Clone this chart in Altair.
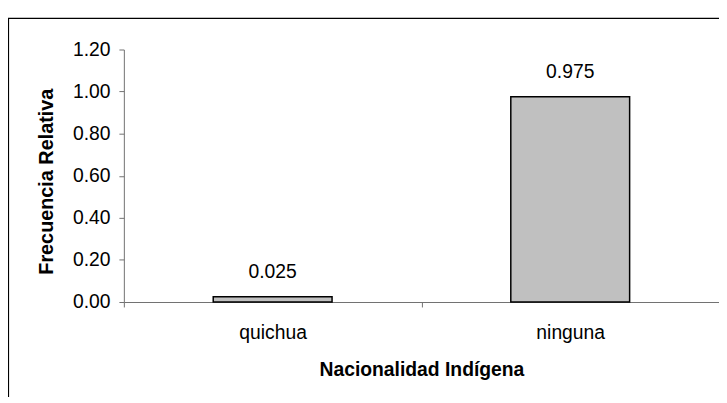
import altair as alt
import pandas as pd

categorias = ["quichua", "ninguna"]
frecuencias = [0.025, 0.975]
etiquetas = ["0.025", "0.975"]
y_ticks = [0.0, 0.2, 0.4, 0.6, 0.8, 1.0, 1.2]

df = pd.DataFrame({"cat": categorias, "freq": frecuencias, "lab": etiquetas})

FONT = "Liberation Sans"
FS = 19.5

x_enc = alt.X("cat:N", sort=categorias, title="Nacionalidad Indígena",
              scale=alt.Scale(paddingInner=0, paddingOuter=0),
              axis=alt.Axis(labelAngle=0, tickBand="extent", tickSize=5,
                            labelPadding=17, titlePadding=19,
                            domainColor="#707070", tickColor="#707070",
                            labelFont=FONT, labelFontSize=FS, labelColor="black",
                            titleFont=FONT, titleFontSize=FS, titleFontWeight="bold",
                            titleColor="black"))
y_enc = alt.Y("freq:Q", title="Frecuencia Relativa",
              scale=alt.Scale(domain=[0, 1.2], nice=False),
              axis=alt.Axis(values=y_ticks, format=".2f", grid=False, tickSize=5,
                            labelPadding=9, titlePadding=16, titleY=133,
                            domainColor="#707070", tickColor="#707070",
                            labelFont=FONT, labelFontSize=FS, labelColor="black",
                            titleFont=FONT, titleFontSize=20, titleFontWeight="bold",
                            titleColor="black"))

base = alt.Chart(df)

frame = base.mark_rect(fill="transparent", stroke="black", strokeWidth=1.2).encode(
    x=alt.value(-116.5), x2=alt.value(700), y=alt.value(-31.5), y2=alt.value(400)
).transform_filter("datum.cat == 'quichua'")

bars = base.mark_bar(size=120, fill="#C0C0C0", stroke="black", strokeWidth=1.5).encode(
    x=x_enc, y=y_enc
)

text = base.mark_text(baseline="alphabetic", dy=-19, font=FONT, fontSize=FS, color="black").encode(
    x=alt.X("cat:N", sort=categorias), y="freq:Q", text="lab:N"
)

chart = alt.layer(frame, bars, text).properties(
    width=601, height=255,
    autosize=alt.AutoSizeParams(type="none"),
    padding={"left": 117, "top": 40, "right": 0, "bottom": 94},
).configure_view(stroke=None)

chart.save("out.html", embed_options={"renderer": "svg", "actions": False})
